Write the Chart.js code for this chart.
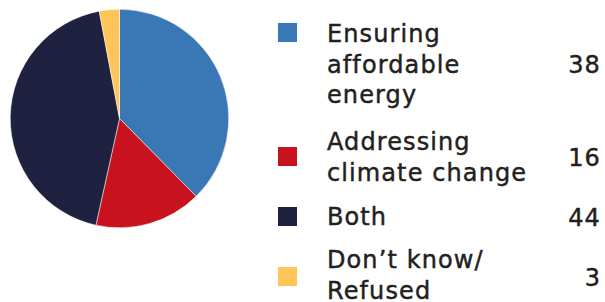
<!DOCTYPE html>
<html>
<head>
<meta charset="utf-8">
<script src="https://cdn.jsdelivr.net/npm/chart.js@4"></script>
<style>
  body { margin: 0; width: 605px; height: 302px; background: #fff; position: relative; overflow: hidden; }
  #pieWrap { position: absolute; left: 10px; top: 9px; width: 219px; height: 219px; }
  .sw { position: absolute; left: 278px; width: 19px; height: 19px; }
  .lab, .val { position: absolute; font-family: "DejaVu Sans", sans-serif; font-size: 24px; line-height: 30.5px;
    color: #231f20; letter-spacing: 1.1px; white-space: pre; -webkit-text-stroke: 0.45px #231f20; }
  .lab { left: 327px; }
  .val { right: 4px; text-align: right; }
</style>
</head>
<body>
<div id="pieWrap"><canvas id="pie" width="219" height="219"></canvas></div>
<div id="legend"></div>
<script>
const categories = ['Ensuring\naffordable\nenergy', 'Addressing\nclimate change', 'Both', 'Don’t know/\nRefused'];
const values = [38, 16, 44, 3];
const colors = ['#3a78b5', '#c8131e', '#1f2140', '#fec558'];

// legend row placement (px)
const swatchTop = [23, 147, 207, 267];
const labelTop = [19, 127, 202, 245];
const valueTop = [50, 143, 203, 263];

const ctx = document.getElementById('pie');

new Chart(ctx, {
  type: 'pie',
  data: {
    labels: categories,
    datasets: [{
      data: values,
      backgroundColor: colors,
      borderColor: '#ffffff',
      borderWidth: 0.5
    }]
  },
  options: {
    responsive: false,
    animation: false,
    plugins: { legend: { display: false }, tooltip: { enabled: false } },
    layout: { padding: 0 }
  }
});

const legend = document.getElementById('legend');
categories.forEach((c, i) => {
  const sw = document.createElement('div');
  sw.className = 'sw';
  sw.style.top = swatchTop[i] + 'px';
  sw.style.background = colors[i];
  legend.appendChild(sw);

  const lab = document.createElement('div');
  lab.className = 'lab';
  lab.style.top = labelTop[i] + 'px';
  lab.textContent = c;
  legend.appendChild(lab);

  const val = document.createElement('div');
  val.className = 'val';
  val.style.top = valueTop[i] + 'px';
  val.textContent = values[i];
  legend.appendChild(val);
});
</script>
</body>
</html>
